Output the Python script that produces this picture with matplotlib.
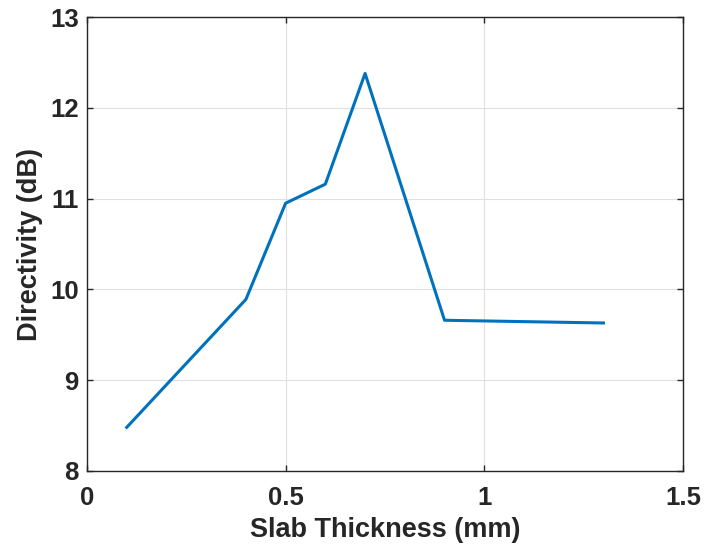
import numpy as np
import matplotlib
matplotlib.use('Agg')
import matplotlib.pyplot as plt

thickness = [0.1, 0.4, 0.5, 0.6, 0.7, 0.9, 1.3]
directivity = [8.48, 9.89, 10.95, 11.16, 12.38, 9.66, 9.63]

x_ticks = [0, 0.5, 1, 1.5]
x_tick_labels = ['0', '0.5', '1', '1.5']
y_ticks = [8, 9, 10, 11, 12, 13]

plt.rcParams['font.family'] = ['Liberation Sans', 'DejaVu Sans']

fig = plt.figure(figsize=(7.04, 5.54), dpi=100)
ax = fig.add_axes([0.1236, 0.150, 0.8464, 0.819])

ax.plot(thickness, directivity, color='#0072BD', linewidth=2.2)

ax.set_xlim(0, 1.5)
ax.set_ylim(8, 13)
ax.set_xticks(x_ticks)
ax.set_xticklabels(x_tick_labels)
ax.set_yticks(y_ticks)
ax.grid(True, color='#e0e0e0', linewidth=0.8)
ax.set_axisbelow(True)

ax.tick_params(direction='in', top=True, right=True, length=4.5, width=1.0,
               colors='#262626', labelsize=18.5)
ax.tick_params(axis='x', pad=11)
ax.tick_params(axis='y', pad=6)
for lab in ax.get_xticklabels() + ax.get_yticklabels():
    lab.set_fontweight('bold')
for s in ax.spines.values():
    s.set_color('#262626')
    s.set_linewidth(1.0)

ax.set_xlabel('Slab Thickness (mm)', fontsize=19.5, fontweight='bold',
              color='#262626', labelpad=5)
ax.set_ylabel('Directivity (dB)', fontsize=19.5, fontweight='bold',
              color='#262626', labelpad=5)

plt.savefig('out.png', dpi=100)
